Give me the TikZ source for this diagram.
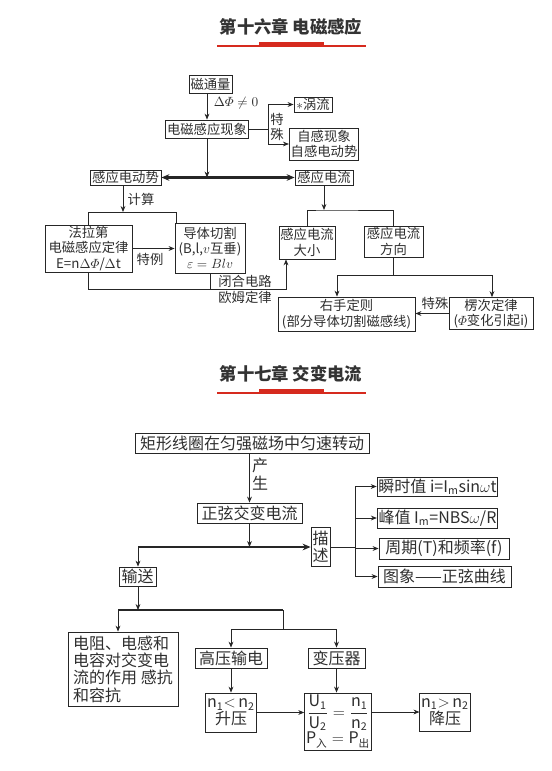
\documentclass[tikz,border=0pt]{standalone}
\usepackage{fontspec}
\usepackage{amsmath}
\setmainfont{Noto Sans CJK SC}
\usetikzlibrary{arrows.meta,positioning,calc}
\colorlet{colorLine}{black!85}
\colorlet{colorText}{black!82}
\colorlet{colorTitle}{black!80}
\definecolor{colorBar}{HTML}{D62A1E}
\newcommand{\szA}{\fontsize{10}{11.5}\selectfont}
\newcommand{\szB}{\fontsize{12}{13}\selectfont}
\tikzset{
   every path/.style={>={Stealth[length=4.5pt,width=3.6pt]}},
   ar/.style={->,draw=colorLine,line width=0.6pt},
   ln/.style={draw=colorLine,line width=0.6pt},
   thk/.style={draw=colorLine,line width=1.8pt,>={Stealth[length=6pt,width=5pt]}},
   rule/.style={draw=colorBar,line width=1.1pt},
   title/.style={font=\bfseries\fontsize{13}{15}\selectfont,text=colorTitle},
   wh/.style 2 args={minimum width=#1*0.75pt,minimum height=#2*0.75pt},
}

\begin{document}
\begin{tikzpicture}[x=0.75pt,y=-0.75pt,
  box/.style={rectangle, draw=colorLine, line width=0.6pt, inner sep=1pt, align=center, text=colorText},
  lbl/.style={inner sep=0pt, align=center, text=colorText}]
  \useasboundingbox (0,0) rectangle (551,771);

  % chapter 16
  \node [title] (t1) at (291,27) {第十六章 电磁感应};
  \draw [rule] (217,46) -- (366,46);
  \fill [colorBar] (259,42) rectangle (324,46);

  \node [box, wh={43}{18}, font=\szA] (flux) at (210.5,84) {磁通量};
  \node [box, wh={82}{18}, font=\szA] (emi) at (207,129) {电磁感应现象};
  \node [box, wh={38}{15}, font=\szA] (eddy) at (313,104.5) {$\ast$涡流};
  \node [box, wh={60}{32}, font=\szA] (self) at (324,144) {自感现象\\自感电动势};
  \node [box, wh={71}{15}, font=\szA] (emf) at (125.5,177.5) {感应电动势};
  \node [box, wh={58}{15}, font=\szA] (cur) at (324,177.5) {感应电流};
  \node [box, wh={87}{47}, font=\szA] (far) at (88.5,248.5) {法拉第\\电磁感应定律\\E=n$\Delta\varPhi$/$\Delta$t};
  \node [box, wh={70}{50}, font=\szA] (cut) at (210,248) {导体切割\\(B,l,$v$互垂)\\$\varepsilon=Blv$};
  \node [box, wh={56}{33}, font=\szA] (mag) at (307,242.5) {感应电流\\大小};
  \node [box, wh={59}{31}, font=\szA] (dir) at (393.5,241.5) {感应电流\\方向};
  \node [box, wh={137}{34}, font=\szA] (rhr) at (346.5,314) {右手定则\\(部分导体切割磁感线)};
  \node [box, wh={84}{29}, font=\szA] (lenz) at (491,313.5) {楞次定律\\($\varPhi$变化引起i)};

  \coordinate (sp) at (268,129);
  \coordinate (mj) at (207,177.5);
  \coordinate (fk) at (123,212);
  \coordinate (kt) at (176,212);
  \coordinate (ok) at (286,289);
  \coordinate (ck) at (324,210);
  \coordinate (ra) at (337,275);
  \coordinate (lb) at (492,275);

  \draw [ar] (emi.north |- flux.south) -- (emi.north);
  \draw [ln] (emi.east) -- (sp);
  \draw [ln] (sp |- eddy.west) -- (sp |- self.west);
  \draw [ar] (sp |- eddy.west) -- (eddy.west);
  \draw [ar] (sp |- self.west) -- (self.west);
  \draw [ar] (emi.south) -- (mj);
  \draw [thk, <->] (emf.east) -- (cur.west);

  \draw [ar] (emf.south -| fk) -- (fk);
  \draw [ln] (far.north) |- (kt) -- (kt |- cut.north);
  \draw [ar] (far.east) -- (far.east -| cut.west);
  \draw [ar] (far.south) |- (ok) -- (ok |- mag.south);
  \draw [ln] (cut.south) -- (cut.south |- ok);

  \draw [ar] (cur.south) -- (ck);
  \draw [ln] (mag.north) |- (ck) -| (dir.north);
  \draw [ln] (dir.south) -- (dir.south |- ra);
  \draw [ln] (ra) -- (lb);
  \draw [ar] (ra) -- (ra |- rhr.north);
  \draw [ar] (lb) -- (lb |- lenz.north);
  \draw [ar] (lenz.west) -- (lenz.west -| rhr.east);

  \node [lbl, font=\szA] (dphi) at (236,103) {$\Delta\varPhi\neq0$};
  \node [lbl, font=\szA] (ts1) at (277,127) {特\\殊};
  \node [lbl, font=\szA] (calc) at (141,199) {计算};
  \node [lbl, font=\szA] (tl1) at (150,259) {特例};
  \node [lbl, font=\szA] (cl) at (245,281) {闭合电路};
  \node [lbl, font=\szA] (ohm) at (245,297) {欧姆定律};
  \node [lbl, font=\szA] (ts2) at (435,303) {特殊};

  % chapter 17
  \node [title] (t2) at (291,374) {第十七章 交变电流};
  \draw [rule] (217,393) -- (366,393);
  \fill [colorBar] (259,389) rectangle (324,393);

  \node [box, wh={234}{20}, font=\szB] (rect) at (252,443) {矩形线圈在匀强磁场中匀速转动};
  \node [box, wh={105}{20}, font=\szB] (sine) at (249.5,513) {正弦交变电流};
  \node [box, wh={19}{39}, font=\szB] (desc) at (320.5,547) {描\\述};
  \node [box, wh={119}{19}, font=\szB] (inst) at (437.5,486.5) {瞬时值 i=I$_{\mathrm m}$sin$\omega$t};
  \node [box, wh={119}{20}, font=\szB] (peak) at (437.5,518) {峰值 I$_{\mathrm m}$=NBS$\omega$/R};
  \node [box, wh={130}{21}, font=\szB] (per) at (444,548.5) {周期(T)和频率(f)};
  \node [box, wh={133}{21}, font=\szB] (graph) at (444.5,576.5) {图象——正弦曲线};
  \node [box, wh={37}{19}, font=\szB] (trans) at (137.5,576.5) {输送};
  \node [box, wh={110}{74}, font=\szB, align=left] (rlc) at (123,669) {电阻、电感和\\电容对交变电\\流的作用 感抗\\和容抗};
  \node [box, wh={72}{20}, font=\szB] (hv) at (231,658) {高压输电};
  \node [box, wh={57}{20}, font=\szB] (xf) at (336.5,658) {变压器};
  \node [box, wh={44}{39}, font=\szB] (up) at (231,712.5) {$\mathrm{n_1}{<}\,\mathrm{n_2}$\\升压};
  \node [box, wh={64}{57}, font=\szB] (form) at (338,721.5) {$\dfrac{\mathrm{U_1}}{\mathrm{U_2}}=\dfrac{\mathrm{n_1}}{\mathrm{n_2}}$\\$\mathrm{P}_{\text{入}}=\mathrm{P}_{\text{出}}$};
  \node [box, wh={42}{38}, font=\szB] (down) at (445,712) {$\mathrm{n_1}{>}\,\mathrm{n_2}$\\降压};

  \coordinate (sk) at (249.5,547);
  \coordinate (tl) at (138,547);
  \coordinate (tb) at (138,610);
  \coordinate (ll) at (118,610);
  \coordinate (lr) at (283,610);
  \coordinate (hk) at (283,629);
  \coordinate (dk) at (355,547);

  \draw [ar] (sine.north |- rect.south) -- (sine.north);
  \draw [ar] (sine.south) -- (sk);
  \draw [thk, ->] (tl) -- (desc.west);
  \draw [ln] (desc.east) -- (dk);
  \draw [ln] (dk |- inst.west) -- (dk |- graph.west);
  \draw [ar] (dk |- inst.west) -- (inst.west);
  \draw [ar] (dk |- peak.west) -- (peak.west);
  \draw [ar] (dk |- per.west) -- (per.west);
  \draw [ar] (dk |- graph.west) -- (graph.west);

  \draw [ar] (tl) -- (tl |- trans.north);
  \draw [ar] (trans.south -| tb) -- (tb);
  \draw [thk] (ll) -- (lr);
  \draw [ar] (ll) -- (ll |- rlc.north);
  \draw [ln] (lr) -- (hk);
  \draw [ar] (hk) -| (hv.north);
  \draw [ar] (hk) -| (xf.north);
  \draw [ar] (hv.south) -- (up.north);
  \draw [ar] (xf.south) -- (xf.south |- form.north);
  \draw [ar] (up.east) -- (up.east -| form.west);
  \draw [ar] (form.east |- down.west) -- (down.west);

  \node [lbl, font=\szB] (prod) at (260,474) {产\\生};
\end{tikzpicture}
\end{document}
